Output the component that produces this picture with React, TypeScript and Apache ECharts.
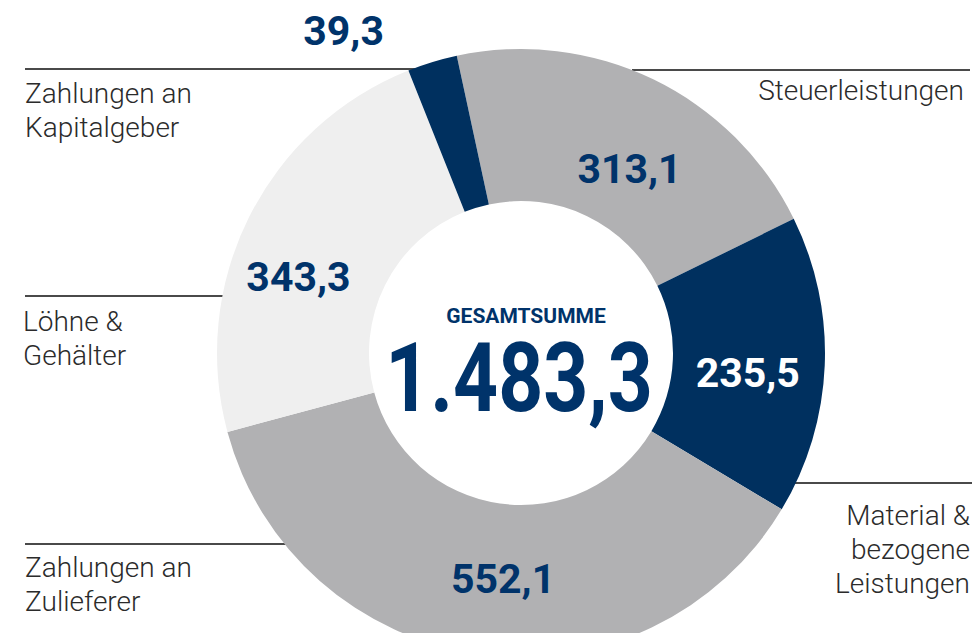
import React, { useEffect, useRef } from "react";
import * as echarts from "echarts";

const categories = [
  "Steuerleistungen",
  "Material & bezogene Leistungen",
  "Zahlungen an Zulieferer",
  "Löhne & Gehälter",
  "Zahlungen an Kapitalgeber",
];
const values = [313.1, 235.5, 552.1, 343.3, 39.3];
const totalTitle = "GESAMTSUMME";

// display lines of the category labels (same order as categories)
const categoryLines = [
  ["Steuerleistungen"],
  ["Material &", "bezogene", "Leistungen"],
  ["Zahlungen an", "Zulieferer"],
  ["Löhne &", "Gehälter"],
  ["Zahlungen an", "Kapitalgeber"],
];

const NAVY = "#00305f";
const NAVY_TEXT = "#00336a";
const GRAY = "#b1b1b3";
const LIGHT = "#efefef";
const TEXT = "#2b2b2b";
const RULE = "#4a4a4a";

const sliceColors = [GRAY, NAVY, GRAY, LIGHT, NAVY];
const valueLabelColors = [NAVY_TEXT, "#ffffff", NAVY_TEXT, NAVY_TEXT, NAVY_TEXT];
const valueLabelOffsets = [
  [8, 24],
  [-4, 10],
  [14, -3],
  [-16, 27],
  [-110, -101],
];

// category label placement: [x, top, align]
const catLabelPos: [number, number, string][] = [
  [964, 73, "right"],
  [970, 498, "right"],
  [25, 550, "left"],
  [23, 304, "left"],
  [25, 76, "left"],
];
// leader rules: [x1, x2, y]
const rules = [
  [632, 970, 70],
  [793, 972, 483],
  [25, 287, 544],
  [25, 224, 296],
  [25, 415, 69],
];

const fmt = (v: number) => {
  const [i, d] = v.toFixed(1).split(".");
  return i.replace(/\B(?=(\d{3})+(?!\d))/g, ".") + "," + d;
};

export default function App() {
  const ref = useRef<HTMLDivElement>(null);
  useEffect(() => {
    if (!ref.current) return;
    const chart = echarts.init(ref.current, null, { renderer: "svg" });
    const total = values.reduce((a, b) => a + b, 0);
    const graphics: any[] = [];
    rules.forEach(([x1, x2, y]) => {
      graphics.push({
        type: "line",
        shape: { x1, y1: y, x2, y2: y },
        style: { stroke: RULE, lineWidth: 2 },
        silent: true,
      });
    });
    categoryLines.forEach((lines, i) => {
      const [x, y, align] = catLabelPos[i];
      graphics.push({
        type: "text",
        x,
        y,
        style: {
          text: lines.join("\n"),
          fill: TEXT,
          fontSize: 28,
          fontFamily: "Roboto",
          fontWeight: 300,
          lineHeight: 34,
          textAlign: align,
          align,
          textVerticalAlign: "top",
          verticalAlign: "top",
        },
        silent: true,
      });
    });
    graphics.push({
      type: "text",
      x: 526,
      y: 316,
      style: {
        text: totalTitle,
        fill: NAVY_TEXT,
        fontSize: 21,
        fontWeight: "bold",
        fontFamily: "Roboto",
        textAlign: "center",
        align: "center",
        textVerticalAlign: "middle",
        verticalAlign: "middle",
      },
      silent: true,
    });
    graphics.push({
      type: "text",
      x: 519,
      y: 378,
      scaleX: 0.81,
      style: {
        text: fmt(total),
        fill: NAVY_TEXT,
        fontSize: 97,
        fontWeight: "bold",
        fontFamily: "Roboto",
        textAlign: "center",
        align: "center",
        textVerticalAlign: "middle",
        verticalAlign: "middle",
      },
      silent: true,
    });

    chart.setOption({
      animation: false,
      backgroundColor: "#ffffff",
      series: [
        {
          type: "pie",
          center: [521, 353],
          radius: [152, 304],
          startAngle: 102.2,
          clockwise: true,
          silent: true,
          avoidLabelOverlap: false,
          emphasis: { disabled: true },
          labelLine: { show: false },
          label: {
            show: true,
            position: "inside",
            fontFamily: "Roboto",
            fontWeight: "bold",
            fontSize: 41,
            formatter: (p: any) => fmt(p.value),
          },
          labelLayout: (p: any) => {
            const o = valueLabelOffsets[p.dataIndex];
            return { dx: o[0], dy: o[1] };
          },
          data: categories.map((name, i) => ({
            name,
            value: values[i],
            itemStyle: { color: sliceColors[i] },
            label: { color: valueLabelColors[i] },
          })),
        },
      ],
      graphic: graphics,
    });
    return () => chart.dispose();
  }, []);
  return (
    <div
      ref={ref}
      style={{ position: "absolute", left: 0, top: 0, width: 976, height: 633 }}
    />
  );
}
